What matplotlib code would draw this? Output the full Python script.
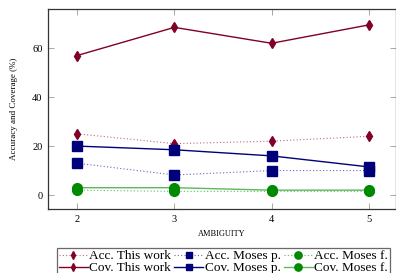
import matplotlib
matplotlib.use("Agg")
import matplotlib.pyplot as plt

# data
ambiguity = [2, 3, 4, 5]
acc_this = [25, 21, 22, 24]
cov_this = [57, 68.5, 62, 69.5]
acc_moses_p = [13, 8.2, 10, 10]
cov_moses_p = [20, 18.5, 16, 11.5]
acc_moses_f = [2, 1.5, 1.5, 1.5]
cov_moses_f = [3, 3, 2, 2]

red = "#800026"
blue = "#00007a"
green = "#008a00"
red_light = "#c06680"
blue_light = "#6666c0"
green_light = "#5cb85c"

plt.rcParams["font.family"] = ["Liberation Serif", "DejaVu Serif"]

fig = plt.figure(figsize=(3.96, 2.73), dpi=100)
ax = fig.add_axes([48 / 396, 1 - 209 / 273, 348 / 396, 200 / 273])

dots = (0, (1, 2))
ax.plot(ambiguity, acc_this, ls=dots, lw=0.8, color=red_light,
        marker="d", ms=5, mfc=red, mec=red, label="Acc. This work")
ax.plot(ambiguity, cov_this, ls="-", lw=1.0, color=red,
        marker="d", ms=5, mfc=red, mec=red, label="Cov. This work")
ax.plot(ambiguity, acc_moses_p, ls=dots, lw=0.8, color=blue_light,
        marker="s", ms=6.5, mfc=blue, mec=blue, label="Acc. Moses p.")
ax.plot(ambiguity, cov_moses_p, ls="-", lw=1.0, color=blue,
        marker="s", ms=6.5, mfc=blue, mec=blue, label="Cov. Moses p.")
ax.plot(ambiguity, acc_moses_f, ls=dots, lw=0.8, color=green_light,
        marker="o", ms=7, mfc=green, mec=green, label="Acc. Moses f.")
ax.plot(ambiguity, cov_moses_f, ls="-", lw=1.0, color=green_light,
        marker="o", ms=7, mfc=green, mec=green, label="Cov. Moses f.")

ax.set_xlim(1.7, 5.28)
ax.set_ylim(-5.7, 76)
ax.set_xticks(ambiguity)
ax.set_yticks([0, 20, 40, 60])
ax.tick_params(direction="in", length=4, width=0.6, color="#999999",
               top=True, right=True, labelsize=7.5, pad=4)
for s in ax.spines.values():
    s.set_linewidth(0.9)
    s.set_color("#333333")

ax.set_ylabel("Accuracy and Coverage (%)", fontsize=6.5, labelpad=10)
ax.set_xlabel("AMBIGUITY", fontsize=6, labelpad=5)

leg = ax.legend(loc="upper center", bbox_to_anchor=(0.504, -0.195), ncol=3,
                fontsize=9.5, frameon=True, fancybox=False, edgecolor="#444444",
                handlelength=2.2, handletextpad=0.1, columnspacing=0.25,
                labelspacing=0.0, borderpad=0.15, borderaxespad=0,
                markerscale=0.75)
leg.get_frame().set_linewidth(0.9)

fig.savefig("out.png", dpi=100)
